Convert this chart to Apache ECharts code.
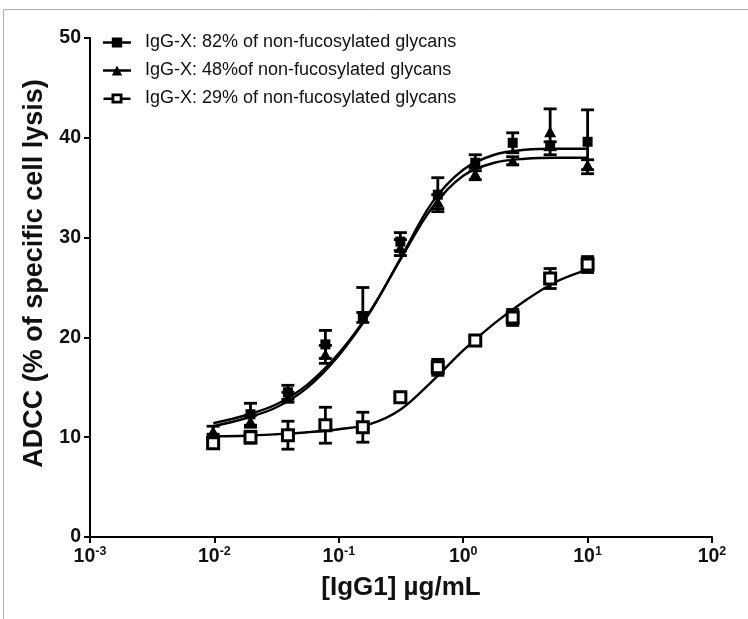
<!DOCTYPE html>
<html>
<head>
<meta charset="utf-8">
<script src="https://cdn.jsdelivr.net/npm/echarts@6/dist/echarts.min.js"></script>
<style>
html,body{margin:0;padding:0;background:#fff;}
#chart{width:748px;height:619px;}
</style>
</head>
<body>
<div id="chart"></div>
<script>
// ---- data ----
const seriesNames = [
  'IgG-X: 82% of non-fucosylated glycans',
  'IgG-X: 48%of non-fucosylated glycans',
  'IgG-X: 29% of non-fucosylated glycans'
];
const dose = [0.00977, 0.0195, 0.039, 0.078, 0.156, 0.3125, 0.625, 1.25, 2.5, 5, 10];

const meanA    = [9.8, 12.3, 14.5, 19.3, 22.1, 29.6, 34.3, 37.5, 39.5, 39.2, 39.6];
const errUpA   = [0.5, 1.1, 0.7, 1.4, 2.9, 0.9, 1.7, 0.8, 1.0, 0.4, 3.2];
const errDnA   = [0.5, 1.1, 0.7, 1.4, 0.0, 0.9, 1.7, 0.8, 1.0, 0.4, 3.2];

const meanB    = [10.6, 11.6, 14.0, 18.3, 22.0, 29.0, 33.6, 36.4, 37.7, 40.6, 37.3];
const errUpB   = [0.5, 0.6, 0.5, 0.9, 0.5, 0.8, 0.7, 0.6, 0.4, 2.3, 0.5];
const errDnB   = [0.5, 0.6, 0.5, 0.9, 0.5, 0.8, 0.7, 0.6, 0.4, 2.3, 0.5];

const meanC    = [9.4, 10.0, 10.2, 11.2, 11.0, 14.0, 17.0, 19.7, 22.0, 25.9, 27.3];
const errUpC   = [0.5, 0.6, 1.4, 1.8, 1.5, 0.4, 0.8, 0.4, 0.8, 1.0, 0.8];
const errDnC   = [0.5, 0.6, 1.4, 1.8, 1.5, 0.4, 0.8, 0.4, 0.8, 1.0, 0.8];

// fitted curves at these concentrations
const curveX = [0.0098, 0.0178, 0.0316, 0.0562, 0.1, 0.178, 0.316, 0.562, 1, 1.78, 3.16, 5.62, 10];
const curveA = [11.1, 11.9, 13.0, 15.0, 18.2, 22.5, 28.0, 33.5, 36.8, 38.3, 38.8, 38.9, 38.9];
const curveB = [11.4, 12.2, 13.3, 15.3, 18.4, 22.6, 27.9, 33.0, 36.2, 37.5, 37.9, 38.0, 38.0];
const curveC = [10.1, 10.15, 10.3, 10.5, 10.8, 11.3, 12.8, 15.6, 18.7, 21.4, 23.7, 25.6, 26.8];

const xTickExponents = [-3, -2, -1, 0, 1, 2];
const yTicks = [0, 10, 20, 30, 40, 50];

const xTitle = '[IgG1] µg/mL';
const yTitle = 'ADCC (% of specific cell lysis)';

// ---- chart ----
const FONT = 'Liberation Sans, Arial, sans-serif';
const zip = (xs, ys) => xs.map((x, i) => [x, ys[i]]);
const errData = (m, up, dn) => dose.map((x, i) => [x, m[i], up[i], dn[i]]);

function errorBarSeries(name, m, up, dn) {
  return {
    type: 'custom',
    name: name + ' err',
    silent: true,
    z: 3,
    data: errData(m, up, dn),
    encode: { x: 0, y: 1 },
    renderItem: function (params, api) {
      const x = api.value(0), v = api.value(1), u = api.value(2), d = api.value(3);
      const pT = api.coord([x, v + u]);
      const pB = api.coord([x, v - d]);
      const h = 6.5;
      const st = { stroke: '#000', lineWidth: 2.8, fill: null };
      const ch = [{ type: 'line', shape: { x1: pT[0], y1: pT[1], x2: pB[0], y2: pB[1] }, style: st }];
      if (u > 0) ch.push({ type: 'line', shape: { x1: pT[0] - h, y1: pT[1], x2: pT[0] + h, y2: pT[1] }, style: st });
      if (d > 0) ch.push({ type: 'line', shape: { x1: pB[0] - h, y1: pB[1], x2: pB[0] + h, y2: pB[1] }, style: st });
      return { type: 'group', children: ch };
    }
  };
}

function curveSeries(name, ys) {
  return {
    type: 'line',
    name: name + ' fit',
    data: zip(curveX, ys),
    smooth: 0.35,
    symbol: 'none',
    silent: true,
    z: 2,
    lineStyle: { color: '#000', width: 2.4 }
  };
}

const iconA = 'path://M0,4 L27,4 L27,6.5 L0,6.5 Z M8.5,0.5 L18.5,0.5 L18.5,10 L8.5,10 Z';
const iconB = 'path://M0,4 L27,4 L27,6.5 L0,6.5 Z M8.5,10 L13.5,0.5 L18.5,10 Z';
const iconC = 'path://M0,4 L8,4 L8,6.5 L0,6.5 Z M19,4 L27,4 L27,6.5 L19,6.5 Z M8,0 L19,0 L19,10 L8,10 Z M10.8,2.8 L10.8,7.2 L16.2,7.2 L16.2,2.8 Z';

const chart = echarts.init(document.getElementById('chart'), null, { renderer: 'canvas' });
chart.setOption({
  animation: false,
  backgroundColor: '#fff',
  grid: { left: 90, right: 36, top: 38, bottom: 82, containLabel: false },
  legend: {
    orient: 'vertical',
    left: 98,
    top: 27,
    itemWidth: 28,
    itemHeight: 10,
    itemGap: 7,
    selectedMode: false,
    textStyle: { fontFamily: FONT, fontSize: 18, lineHeight: 21, color: '#111', padding: [0, 0, 0, 9] },
    data: [
      { name: seriesNames[0], icon: iconA, itemStyle: { color: '#000', borderWidth: 0 } },
      { name: seriesNames[1], icon: iconB, itemStyle: { color: '#000', borderWidth: 0 } },
      { name: seriesNames[2], icon: iconC, itemStyle: { color: '#000', borderWidth: 0 } }
    ]
  },
  xAxis: {
    type: 'log',
    logBase: 10,
    min: Math.pow(10, xTickExponents[0]),
    max: Math.pow(10, xTickExponents[xTickExponents.length - 1]),
    name: xTitle,
    nameLocation: 'middle',
    nameGap: 38,
    nameTextStyle: { fontFamily: FONT, fontSize: 26, fontWeight: 'bold', color: '#111' },
    axisLine: { lineStyle: { color: '#000', width: 2 } },
    axisTick: { length: 6, lineStyle: { color: '#000', width: 2 } },
    minorTick: { show: false },
    splitLine: { show: false },
    axisLabel: {
      margin: 8,
      formatter: function (v) {
        const e = Math.round(Math.log10(v));
        return '{b|10}{s|' + e + '}';
      },
      rich: {
        b: { fontFamily: FONT, fontSize: 19.5, fontWeight: 'bold', color: '#111', lineHeight: 22, verticalAlign: 'bottom' },
        s: { fontFamily: FONT, fontSize: 12.5, fontWeight: 'bold', color: '#111', lineHeight: 13, verticalAlign: 'top' }
      }
    }
  },
  yAxis: {
    type: 'value',
    min: yTicks[0],
    max: yTicks[yTicks.length - 1],
    interval: 10,
    name: yTitle,
    nameLocation: 'middle',
    nameGap: 34,
    nameTextStyle: { fontFamily: FONT, fontSize: 27, fontWeight: 'bold', color: '#111', padding: [0, 0, 0, 28] },
    axisLine: { show: true, lineStyle: { color: '#000', width: 2 } },
    axisTick: { show: true, length: 6, lineStyle: { color: '#000', width: 2 } },
    splitLine: { show: false },
    axisLabel: { margin: 9, fontFamily: FONT, fontSize: 19.5, fontWeight: 'bold', color: '#111' }
  },
  series: [
    curveSeries('A', curveA),
    curveSeries('B', curveB),
    curveSeries('C', curveC),
    errorBarSeries('A', meanA, errUpA, errDnA),
    errorBarSeries('B', meanB, errUpB, errDnB),
    errorBarSeries('C', meanC, errUpC, errDnC),
    {
      type: 'scatter', name: seriesNames[0], data: zip(dose, meanA), z: 5,
      symbol: 'rect', symbolSize: [10, 10], itemStyle: { color: '#000', opacity: 1 }
    },
    {
      type: 'scatter', name: seriesNames[1], data: zip(dose, meanB), z: 5,
      symbol: 'triangle', symbolSize: [12, 11], itemStyle: { color: '#000', opacity: 1 }
    },
    {
      type: 'scatter', name: seriesNames[2], data: zip(dose, meanC), z: 5,
      symbol: 'rect', symbolSize: [11, 11], itemStyle: { color: '#fff', borderColor: '#000', borderWidth: 3, opacity: 1 }
    }
  ],
  graphic: [
    { type: 'line', silent: true, shape: { x1: 3.5, y1: 9.5, x2: 748, y2: 9.5 }, style: { stroke: '#b0b0b0', lineWidth: 1 } },
    { type: 'line', silent: true, shape: { x1: 3.5, y1: 9.5, x2: 3.5, y2: 619 }, style: { stroke: '#b0b0b0', lineWidth: 1 } }
  ]
});
</script>
</body>
</html>
